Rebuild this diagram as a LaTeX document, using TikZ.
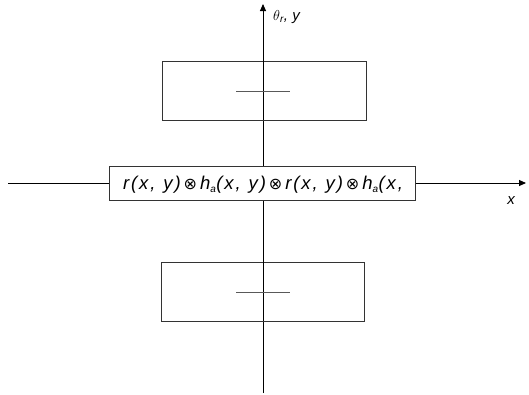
\documentclass[tikz,border=0pt]{standalone}
\usepackage{fontspec}
\setmainfont{Liberation Sans}
\newfontfamily\symfont{DejaVu Sans}
\newfontfamily\eqfont[LetterSpace=10]{Liberation Sans}
\usetikzlibrary{arrows.meta}
\newcommand{\otm}{\hspace{3pt}{\upshape\symfont\fontsize{16}{18}\selectfont ⊗}\hspace{3pt}}
\newcommand{\subA}{\textsubscript{\fontsize{10}{11}\selectfont a}}
\begin{document}
\begin{tikzpicture}[x=1pt,y=-1pt,
  axis/.style={draw=black, line width=0.9pt},
  boxline/.style={draw=black!80, line width=0.9pt},
  bar/.style={draw=black!65, line width=1pt},
  lbl/.style={font=\itshape\fontsize{15}{17}\selectfont, inner sep=0pt},
  arr/.style={-{Triangle[length=7pt,width=6pt]}}]
\useasboundingbox (0,0) rectangle (529,394);
\coordinate (vb) at (263,393);
\coordinate (vt) at (263,4);
\coordinate (hl) at (8,183);
\coordinate (hr) at (526,183);
\draw[axis,arr] (vb) -- (vt);
\draw[axis,arr] (hl) -- (hr);
\node[boxline, fill=white, minimum width=204pt, minimum height=59pt, inner sep=0pt] (top) at (264.5,90.5) {};
\node[boxline, fill=white, minimum width=203pt, minimum height=59pt, inner sep=0pt] (bot) at (262.5,291.5) {};
\draw[axis] (top.north -| vt) -- (top.south -| vt);
\draw[axis] (bot.north -| vt) -- (bot.south -| vt);
\coordinate (tl) at (236,91); \coordinate (tr) at (290,91);
\coordinate (bl) at (236,292); \coordinate (br) at (290,292);
\draw[bar] (tl) -- (tr);
\draw[bar] (bl) -- (br);
\node[boxline, fill=white, minimum width=306pt, minimum height=34pt, inner sep=0pt] (mid) at (262,183) {};
\node[inner sep=0pt, anchor=west, font=\eqfont\itshape\fontsize{18.5}{21}\selectfont] (eq) at (123,185)
  {r(x,\hspace{8pt}y)\otm h\subA(x,\hspace{8pt}y)\otm r(x,\hspace{8pt}y)\otm h\subA(x,};
\node[lbl, anchor=west] (ty) at (273,17) {$\theta$\textsubscript{\fontsize{10}{11}\selectfont r}, y};
\node[lbl] (xl) at (511,201) {x};
\end{tikzpicture}
\end{document}
